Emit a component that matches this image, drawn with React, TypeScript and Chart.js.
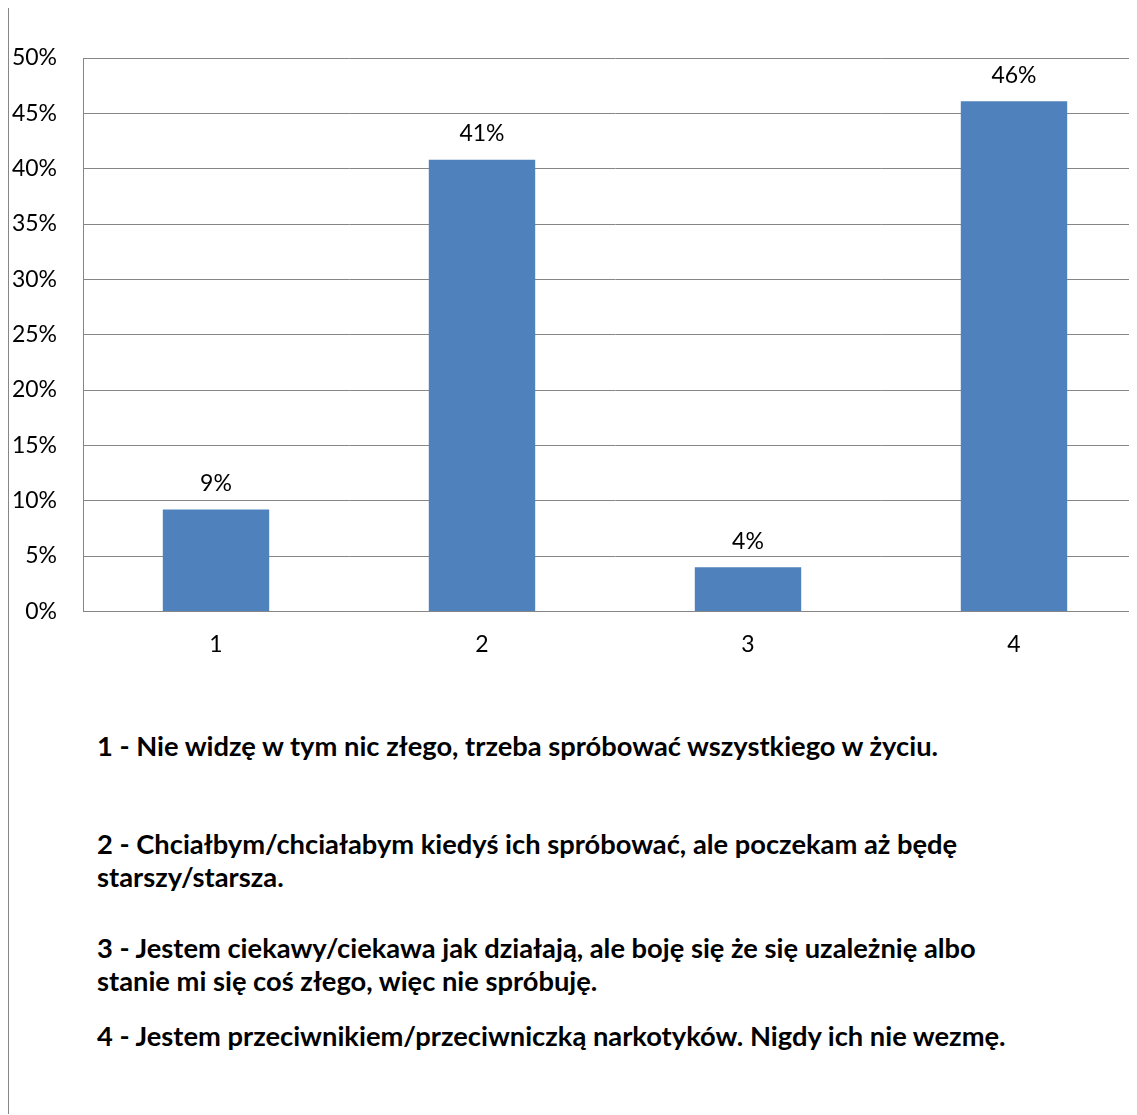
import React, { useEffect, useRef } from "react";
import { Chart, registerables } from "chart.js";

Chart.register(...registerables);

const categories = ["1", "2", "3", "4"];
const values = [9.2, 40.8, 4.0, 46.1];
const yTicks = [0, 5, 10, 15, 20, 25, 30, 35, 40, 45, 50];
const legendLines = [
  ["1 - Nie widzę w tym nic złego, trzeba spróbować wszystkiego w życiu."],
  ["2 - Chciałbym/chciałabym kiedyś ich spróbować, ale poczekam aż będę", "starszy/starsza."],
  ["3 - Jestem ciekawy/ciekawa jak działają, ale boję się że się uzależnię albo", "stanie mi się coś złego, więc nie spróbuję."],
  ["4 - Jestem przeciwnikiem/przeciwniczką narkotyków. Nigdy ich nie wezmę."],
];

const FONT = "Lato, 'Open Sans', sans-serif";
const GRID = "#868686";

const valueLabels = {
  id: "valueLabels",
  afterDatasetsDraw(chart: any) {
    const ctx = chart.ctx;
    const meta = chart.getDatasetMeta(0);
    ctx.save();
    ctx.font = `23px ${FONT}`;
    ctx.fillStyle = "#000";
    ctx.textAlign = "center";
    ctx.textBaseline = "middle";
    meta.data.forEach((bar: any, i: number) => {
      ctx.fillText(`${Math.round(values[i])}%`, bar.x, bar.y - 26);
    });
    ctx.restore();
  },
};

export default function App() {
  const ref = useRef<HTMLCanvasElement | null>(null);
  useEffect(() => {
    document.documentElement.style.overflow = "hidden";
    if (!ref.current) return;
    const chart = new Chart(ref.current, {
      type: "bar",
      data: {
        labels: categories,
        datasets: [
          {
            data: values,
            backgroundColor: "#4F81BD",
            barPercentage: 0.4,
            categoryPercentage: 1,
          },
        ],
      },
      options: {
        animation: false,
        responsive: false,
        devicePixelRatio: 1,
        layout: { padding: { top: 50, right: 0, left: 0, bottom: 0 } },
        plugins: { legend: { display: false }, tooltip: { enabled: false } },
        scales: {
          x: {
            grid: { display: false, drawTicks: false },
            border: { display: true, color: GRID, width: 1 },
            ticks: { color: "#000", font: { family: FONT, size: 23 }, padding: 19 },
          },
          y: {
            min: 0,
            max: 50,
            afterFit(scale: any) {
              scale.width = 74;
            },
            afterBuildTicks(scale: any) {
              scale.ticks = yTicks.map((v) => ({ value: v }));
            },
            grid: { color: GRID, lineWidth: 1, drawTicks: false },
            border: { display: true, color: GRID, width: 1 },
            ticks: {
              color: "#000",
              font: { family: FONT, size: 23 },
              padding: 26,
              callback: (v: any) => `${v}%`,
            },
          },
        },
      },
      plugins: [valueLabels],
    });
    return () => chart.destroy();
  }, []);

  const tops = [[745], [843, 876], [947, 980], [1035]];
  return (
    <div
      style={{
        position: "relative",
        width: 1128,
        height: 1106,
        marginTop: -1,
        borderLeft: `1px solid ${GRID}`,
        borderTop: `1px solid ${GRID}`,
        overflow: "hidden",
      }}
    >
      <canvas
        ref={ref}
        width={1138}
        height={669}
        style={{ position: "absolute", left: 0, top: 0, width: 1138, height: 669 }}
      />
      {legendLines.map((para, pi) =>
        para.map((line, li) => (
          <div
            key={`${pi}-${li}`}
            style={{
              position: "absolute",
              left: 88,
              top: tops[pi][li] - 7 - 18,
              fontFamily: FONT,
              fontWeight: 700,
              fontSize: 27.3,
              lineHeight: "36px",
              color: "#000",
              whiteSpace: "nowrap",
            }}
          >
            {line}
          </div>
        ))
      )}
    </div>
  );
}
